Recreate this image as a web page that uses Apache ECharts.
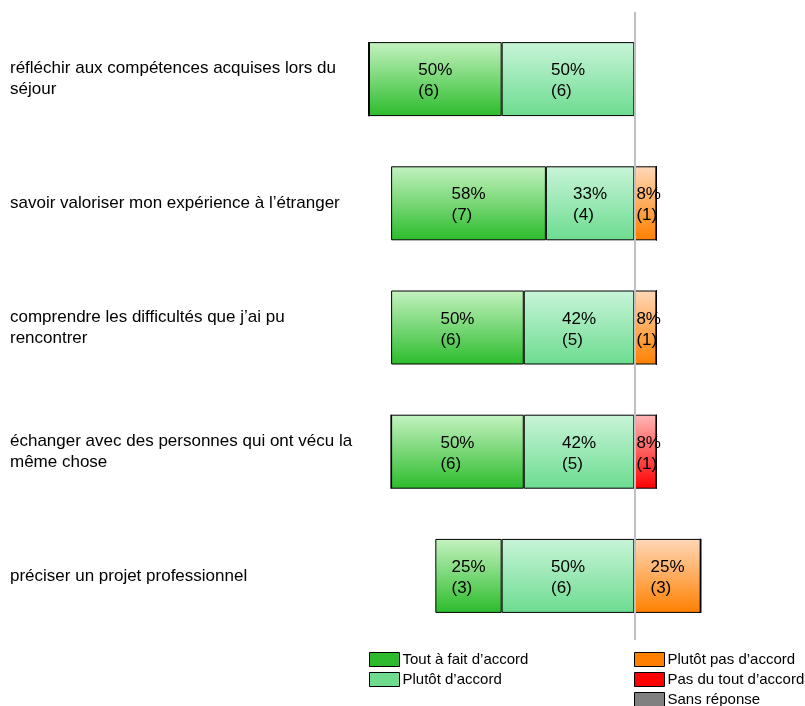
<!DOCTYPE html>
<html>
<head>
<meta charset="utf-8">
<script src="https://cdn.jsdelivr.net/npm/echarts@6/dist/echarts.min.js"></script>
<style>
  html, body { margin: 0; padding: 0; background: #fff; }
  #main { width: 805px; height: 706px; }
</style>
</head>
<body>
<div id="main"></div>
<script>
var categories = [
  'réfléchir aux compétences acquises lors du\nséjour',
  'savoir valoriser mon expérience à l’étranger',
  'comprendre les difficultés que j’ai pu\nrencontrer',
  'échanger avec des personnes qui ont vécu la\nmême chose',
  'préciser un projet professionnel'
];

// nombre de réponses par modalité
var toutAFait   = [6, 7, 6, 6, 3];
var plutotOui   = [6, 4, 5, 5, 6];
var plutotPas   = [0, 1, 1, 0, 3];
var pasDuTout   = [0, 0, 0, 1, 0];
var sansReponse = [0, 0, 0, 0, 0];
var total = 12;

var FONT = 'Liberation Sans';

function grad(top, bottom) {
  return new echarts.graphic.LinearGradient(0, 0, 0, 1, [
    { offset: 0, color: top },
    { offset: 1, color: bottom }
  ]);
}

var labelCfg = {
  show: true,
  position: 'inside',
  offset: [0, 2],
  formatter: function(p) {
    var v = Math.abs(p.value);
    if (!v) return '';
    var pct = Math.round(v / total * 100);
    var s = v < 2 ? 'b' : 'a';
    return '{' + s + '|' + pct + '%}\n{' + s + '|(' + v + ')}';
  },
  rich: {
    a: { width: 34, align: 'left', fontSize: 17, lineHeight: 21, color: '#000', fontFamily: FONT },
    b: { width: 18, align: 'left', fontSize: 17, lineHeight: 21, color: '#000', fontFamily: FONT }
  }
};

function neg(arr) {
  return arr.map(function(v) { return -v; });
}

function mkSeries(name, data, top, bottom) {
  return {
    name: name,
    type: 'bar',
    stack: 'tot',
    barWidth: 74,
    data: data,
    itemStyle: { color: grad(top, bottom), borderColor: '#000', borderWidth: 1 },
    label: labelCfg,
    emphasis: { disabled: true }
  };
}

var series = [
  mkSeries('Plutôt d’accord', neg(plutotOui), '#c8f4d8', '#6cdc90'),
  mkSeries('Tout à fait d’accord', neg(toutAFait), '#c4f2c0', '#2cbc2c'),
  mkSeries('Plutôt pas d’accord', plutotPas, '#ffd8b8', '#ff8000'),
  mkSeries('Pas du tout d’accord', pasDuTout, '#ffb8b8', '#ff0000'),
  mkSeries('Sans réponse', sansReponse, '#d8d8d8', '#808080'),
  {
    name: 'ligne',
    type: 'line',
    data: [],
    z: 10,
    markLine: {
      silent: true,
      symbol: 'none',
      label: { show: false },
      lineStyle: { color: '#c0c0c0', width: 2, type: 'solid' },
      data: [[{ xAxis: 0, y: 12 }, { xAxis: 0, y: 640 }]]
    }
  }
];

var legendText = { fontSize: 15, color: '#000', fontFamily: FONT, padding: [0, 0, 0, -2] };

var option = {
  animation: false,
  grid: { left: 369, right: 38, top: 17, bottom: 68 },
  xAxis: {
    type: 'value',
    min: -12,
    max: 6,
    show: false
  },
  yAxis: {
    type: 'category',
    inverse: true,
    data: categories,
    axisLine: { show: false },
    axisTick: { show: false },
    axisLabel: {
      align: 'left',
      margin: 359,
      fontSize: 17,
      lineHeight: 21,
      padding: [0, 0, 5, 0],
      color: '#000',
      fontFamily: FONT
    }
  },
  legend: [
    {
      left: 369,
      top: 652,
      height: 60,
      padding: 0,
      orient: 'vertical',
      icon: 'rect',
      itemWidth: 30,
      itemHeight: 14,
      itemGap: 5,
      textStyle: legendText,
      data: [
        { name: 'Tout à fait d’accord', itemStyle: { color: '#2dbb2d', borderColor: '#000', borderWidth: 1 } },
        { name: 'Plutôt d’accord', itemStyle: { color: '#6edc8c', borderColor: '#000', borderWidth: 1 } }
      ]
    },
    {
      left: 634,
      top: 652,
      height: 60,
      padding: 0,
      orient: 'vertical',
      icon: 'rect',
      itemWidth: 30,
      itemHeight: 14,
      itemGap: 5,
      textStyle: legendText,
      data: [
        { name: 'Plutôt pas d’accord', itemStyle: { color: '#ff8000', borderColor: '#000', borderWidth: 1 } },
        { name: 'Pas du tout d’accord', itemStyle: { color: '#ff0000', borderColor: '#000', borderWidth: 1 } },
        { name: 'Sans réponse', itemStyle: { color: '#808080', borderColor: '#000', borderWidth: 1 } }
      ]
    }
  ],
  series: series
};

var myChart = echarts.init(document.getElementById('main'));
myChart.setOption(option);
</script>
</body>
</html>
